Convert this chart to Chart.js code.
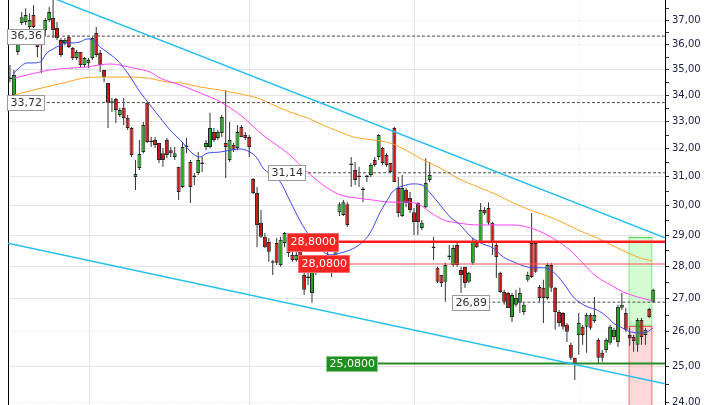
<!DOCTYPE html>
<html>
<head>
<meta charset="utf-8">
<script src="https://cdn.jsdelivr.net/npm/chart.js@4.4.0/dist/chart.umd.min.js"></script>
<style>
  html, body { margin: 0; padding: 0; background: #fff; }
  #wrap { width: 720px; height: 405px; }
</style>
</head>
<body>
<div id="wrap"><canvas id="chart" width="720" height="405"></canvas></div>
<script>
// daily candles (oldest first)
const opens = [34.63,34.01,35.71,36.90,36.95,36.74,37.24,36.28,36.20,36.61,37.03,37.11,36.70,36.20,36.08,36.33,35.87,35.47,35.71,35.19,
  35.27,35.47,36.49,35.67,34.99,34.48,33.71,33.86,33.25,33.52,33.14,32.76,30.99,31.31,31.88,33.71,32.25,32.32,32.21,31.84,
  32.32,31.95,31.70,31.35,30.64,32.06,31.52,30.99,31.13,31.45,32.06,32.06,32.61,32.39,32.58,32.21,31.59,32.14,32.03,32.80,
  32.50,32.43,30.92,30.43,29.42,28.96,28.79,28.12,28.76,28.05,28.76,28.96,28.37,28.21,28.53,27.73,27.64,27.17,27.83,28.27,
  28.15,28.15,27.96,28.15,29.78,29.68,30.05,31.42,31.24,30.99,30.54,30.99,31.06,31.59,31.70,32.03,31.77,31.49,32.76,30.61,
  29.65,30.54,30.26,29.78,30.09,29.25,29.95,30.89,28.59,27.96,27.73,27.52,28.30,28.05,28.69,27.89,27.99,27.52,28.12,28.79,
  28.79,29.85,29.92,29.42,28.69,27.80,27.20,27.17,26.44,26.81,26.87,26.59,27.58,28.76,28.76,27.36,27.33,27.02,28.05,27.33,
  26.59,26.56,26.21,25.62,25.25,25.91,26.15,26.15,26.50,26.32,25.76,25.39,25.47,25.68,25.85,25.70,26.72,26.56,25.91,25.85,
  25.62,26.35,25.91,26.68,26.90];
const highs = [35.19,34.99,36.53,37.37,37.53,37.32,37.66,36.61,36.41,37.11,37.58,38.10,36.95,36.28,36.28,36.41,35.91,35.79,35.71,35.51,
  35.47,36.33,36.74,35.79,34.99,34.48,33.90,33.90,33.52,33.90,33.25,32.80,31.59,32.32,32.99,33.75,32.43,32.43,32.21,32.03,
  32.39,32.06,32.06,31.35,32.25,32.39,31.59,31.13,31.88,31.70,32.32,33.33,32.76,32.69,33.25,34.20,32.99,32.21,32.87,32.87,
  32.61,32.50,30.96,30.64,29.85,29.08,28.92,28.21,28.92,28.96,29.12,29.02,28.53,28.47,28.59,27.80,27.83,27.96,28.27,28.37,
  28.27,28.47,28.21,28.59,30.12,30.19,30.12,31.70,31.52,31.35,30.64,31.06,31.49,31.70,32.54,32.06,31.84,31.49,32.80,30.99,
  31.06,30.61,30.47,29.92,30.12,29.52,31.66,31.52,28.96,27.99,27.73,28.12,28.69,28.69,28.76,27.99,27.99,27.83,28.92,28.86,
  30.09,29.95,30.12,29.45,28.76,27.83,27.27,27.20,27.17,27.27,27.33,26.87,27.83,29.75,28.79,27.42,27.58,28.12,28.12,27.36,
  26.65,26.59,26.26,25.68,25.25,26.56,26.21,26.56,26.56,27.05,25.82,25.47,25.82,26.21,26.12,26.81,27.17,26.71,26.12,25.91,
  26.41,26.41,26.12,26.71,27.30];
const lows = [34.51,33.72,35.59,36.82,36.82,36.61,36.70,35.51,34.87,36.33,36.95,36.28,36.20,35.51,35.99,35.87,35.39,35.39,35.11,35.11,
  35.07,35.39,35.51,34.91,34.51,32.76,33.36,32.95,33.17,32.87,32.69,31.70,30.54,31.24,31.84,32.21,32.06,32.03,31.49,31.35,
  31.67,31.70,31.59,30.19,30.61,31.84,30.09,30.71,31.06,31.17,31.95,32.03,32.25,32.32,32.43,30.96,31.52,31.88,31.95,32.43,
  32.32,31.70,30.40,28.62,28.92,28.59,28.15,27.73,28.05,27.99,28.62,28.30,28.15,28.15,27.89,27.11,27.42,26.87,27.73,27.83,
  27.80,28.05,27.67,28.08,29.65,29.65,29.28,30.64,30.71,30.64,30.12,30.82,30.99,31.35,31.59,31.42,31.35,31.13,30.82,29.62,
  29.62,29.95,29.75,29.02,29.02,29.18,29.92,30.82,28.21,27.48,27.36,26.90,28.21,27.99,27.99,27.17,27.33,27.48,28.05,28.59,
  28.76,29.68,29.35,28.37,27.64,27.17,26.81,26.71,26.29,26.75,26.56,26.50,27.52,27.64,27.80,26.90,26.26,26.96,27.20,26.06,
  26.15,26.06,25.70,25.19,24.62,25.33,25.62,25.39,26.06,26.26,25.10,25.13,25.39,25.62,25.76,25.56,26.65,26.00,25.59,25.42,
  25.42,25.62,25.62,26.41,26.87];
const closes = [34.63,34.79,36.49,37.15,37.24,37.03,36.74,35.91,35.99,37.03,37.37,36.61,36.28,35.59,36.20,35.91,35.47,35.71,35.19,35.47,
  35.39,36.28,35.59,35.19,34.71,33.71,33.71,33.44,33.44,33.14,32.76,31.77,31.10,31.81,32.87,32.25,32.25,32.14,31.59,31.59,
  31.77,31.84,31.84,30.47,32.06,32.06,30.64,30.99,31.59,31.45,32.21,32.76,32.32,32.61,33.17,32.06,32.32,31.95,32.61,32.43,
  32.39,32.06,30.43,29.35,28.96,28.62,28.47,28.12,28.12,28.86,29.08,28.43,28.21,28.37,27.99,27.27,27.64,27.83,28.15,27.96,
  27.89,28.37,28.08,28.53,30.05,30.12,29.35,31.42,30.89,30.99,30.54,30.99,31.42,31.42,32.50,31.49,31.42,31.17,30.82,29.75,
  30.61,30.09,29.85,29.45,29.45,29.42,30.78,31.06,28.59,27.52,27.48,28.05,28.30,28.59,28.05,27.73,27.48,27.80,28.79,28.62,
  29.85,29.75,29.42,28.76,28.30,27.20,26.90,26.71,27.11,27.02,27.17,26.81,27.73,27.67,27.83,27.02,27.02,28.05,27.33,26.59,
  26.26,26.15,26.00,25.25,25.08,26.26,25.91,26.50,26.12,26.50,25.25,25.25,25.76,26.15,26.06,26.75,26.81,26.06,25.82,25.73,
  26.35,25.85,26.06,26.44,27.27];

// moving averages (x = candle index)
const fastMaIdx = [1.0,2.6,4.3,5.9,7.7,9.4,11.0,12.8,14.5,16.1,17.9,19.6,21.2,23.0,24.7,27.3,29.8,33.2,35.7,38.3,40.8,43.4,46.7,48.5,50.3,
  53.6,56.1,58.7,61.2,63.0,64.5,66.3,68.9,71.4,74.0,76.5,79.1,81.6,84.2,86.7,89.3,91.8,94.4,96.2,97.7,100.3,102.8,105.1,107.1,109.7,
  112.2,114.8,117.3,119.9,123.2,125.8,128.3,130.9,133.4,136.0,138.5,141.1,143.6,145.4,147.2,149.7,152.3,153.8,155.6,158.2,160.7,162.5,164.0];
const fastMaVal = [34.87,35.11,35.27,35.27,35.31,35.67,35.83,35.99,36.08,36.08,36.12,36.24,36.20,35.91,35.71,35.39,34.91,34.12,33.63,33.14,32.69,
  32.32,31.81,31.70,31.84,31.88,31.95,31.99,31.88,31.66,31.31,31.10,30.82,30.16,29.48,28.96,28.56,28.37,28.43,28.53,28.72,29.08,29.78,30.19,
  30.50,30.68,30.75,30.71,30.44,30.02,29.62,29.35,28.99,28.76,28.59,28.30,28.15,28.02,27.96,27.96,27.83,27.48,27.05,26.87,26.75,26.65,26.44,
  26.26,26.15,26.00,25.97,26.00,26.12];
const midMaIdx = [1.0,4.3,10.2,19.6,25.5,31.4,35.7,38.3,43.4,48.5,53.6,58.7,64.5,71.4,75.8,79.8,84.2,88.5,92.6,96.9,101.3,104.6,107.1,110.5,
  114.0,119.9,128.3,132.7,137.0,140.3,143.6,146.2,149.7,153.1,156.4,160.0,163.8];
const midMaVal = [34.67,34.79,34.99,35.11,35.23,35.07,34.91,34.67,34.40,34.09,33.75,33.25,32.50,31.77,31.17,30.71,30.37,30.26,30.19,30.12,
  30.12,30.02,29.78,29.52,29.42,29.35,29.35,29.25,29.02,28.76,28.43,28.08,27.67,27.42,27.20,27.05,26.93];
const slowMaIdx = [1.0,5.9,10.2,14.5,18.6,22.2,27.3,31.4,36.5,40.1,43.4,48.5,53.6,58.7,63.0,67.1,71.4,75.8,79.8,84.2,87.5,92.6,96.9,101.3,
  105.4,109.7,114.0,119.9,124.2,128.3,132.7,137.0,141.1,145.4,149.7,153.8,158.2,161.5,163.8];
const slowMaVal = [34.01,34.20,34.36,34.51,34.67,34.71,34.71,34.71,34.63,34.51,34.48,34.32,34.20,34.05,33.90,33.63,33.36,33.14,32.87,32.61,
  32.43,32.32,32.21,31.92,31.59,31.31,30.96,30.61,30.37,30.09,29.85,29.65,29.42,29.15,28.92,28.66,28.40,28.24,28.18];

// trend channel end points
const channelIdx = [-0.5, 167];
const channelUpper = [38.73, 28.93];
const channelLower = [28.75, 24.51];

// marked levels
const levelValues = [36.36, 33.72, 31.14, 26.89, 28.80, 28.08, 25.08];
const levelFromIdx = [-0.77, -0.77, 65.8, 112.8, 70.7, 73.5, 80.6];
const levelKinds = ['plain', 'plain', 'plain', 'plain', 'red', 'red2', 'green'];

// target / stop zone
const zoneIdx = 160.75;
const targetZone = [26.18, 28.95];
const stopZone = [23.0, 26.18];

const yTickValues = [24,24.5,25,25.5,26,26.5,27,27.5,28,28.5,29,29.5,30,30.5,31,31.5,32,32.5,33,33.5,34,34.5,35,35.5,36,36.5,37,37.5];
const yDotted = [24, 26, 32, 36, 37];
const xGridIdx = [20.2, 61.0, 103.1, 145.2];
const xDotted = [145.2];

const styles = {
  plain: { line: '#4a4a4a', width: 1, dash: [3, 2], box: '#ffffff', edge: '#9a9a9a', text: '#333333', h: 15, dec: 2 },
  red:   { line: '#ff1c1c', width: 2.5, dash: [], box: '#ff2424', edge: '#ff6a6a', text: '#ffffff', h: 18, dec: 4 },
  red2:  { line: '#ff5050', width: 1.2, dash: [], box: '#ff2424', edge: '#ff6a6a', text: '#ffffff', h: 17, dec: 4 },
  green: { line: '#2a8a2a', width: 2, dash: [], box: '#1f8f1f', edge: '#88cc88', text: '#ffffff', h: 15, dec: 4 }
};

const fmt = (v, d) => v.toFixed(d).replace('.', ',');
const font = '"DejaVu Sans", Verdana, sans-serif';

const bodyColors = opens.map((o, i) => closes[i] > o ? '#1ea81e' : (closes[i] < o ? '#d01414' : '#333333'));

const datasets = [
  { type: 'line', data: channelIdx.map((x, i) => ({ x, y: channelUpper[i] })), borderColor: '#28bff0', borderWidth: 1.5, pointRadius: 0, order: 0 },
  { type: 'line', data: channelIdx.map((x, i) => ({ x, y: channelLower[i] })), borderColor: '#28bff0', borderWidth: 1.5, pointRadius: 0, order: 0 }
];

levelValues.forEach((v, i) => {
  const s = styles[levelKinds[i]];
  datasets.push({
    type: 'line', data: [{ x: levelFromIdx[i], y: v }, { x: 167, y: v }],
    borderColor: s.line, borderWidth: s.width, borderDash: s.dash, pointRadius: 0, order: 0
  });
});

datasets.push(
  { type: 'line', data: fastMaIdx.map((x, i) => ({ x, y: fastMaVal[i] })), borderColor: '#3b46ee', borderWidth: 1, pointRadius: 0, cubicInterpolationMode: 'monotone', order: 1 },
  { type: 'line', data: midMaIdx.map((x, i) => ({ x, y: midMaVal[i] })), borderColor: '#ff44ff', borderWidth: 1, pointRadius: 0, cubicInterpolationMode: 'monotone', order: 2 },
  { type: 'line', data: slowMaIdx.map((x, i) => ({ x, y: slowMaVal[i] })), borderColor: '#ffa424', borderWidth: 1, pointRadius: 0, cubicInterpolationMode: 'monotone', order: 3 },
  {
    type: 'bar', data: opens.map((o, i) => ({ x: i, y: [o, closes[i]] })),
    backgroundColor: bodyColors, borderColor: '#262626', borderWidth: 1, borderSkipped: false,
    barThickness: 4, minBarLength: 1.5, grouped: false, inflateAmount: 0, order: 4
  },
  {
    type: 'bar', data: lows.map((l, i) => ({ x: i, y: [l, highs[i]] })),
    backgroundColor: '#333333', borderWidth: 0, barThickness: 1, grouped: false, inflateAmount: 0, order: 5
  },
  {
    type: 'bar', data: [{ x: zoneIdx, y: targetZone }],
    backgroundColor: 'rgba(160,250,160,0.45)', borderColor: '#44dd44', borderWidth: 1, borderSkipped: false,
    barThickness: 24, grouped: false, inflateAmount: 0, order: 10
  },
  {
    type: 'bar', data: [{ x: zoneIdx, y: stopZone }],
    backgroundColor: 'rgba(255,170,170,0.45)', borderColor: '#ee2222', borderWidth: 1, borderSkipped: false,
    barThickness: 24, grouped: false, inflateAmount: 0, order: 10
  }
);

// level tags drawn on top
const levelTags = {
  id: 'levelTags',
  afterDatasetsDraw(chart) {
    const { ctx, scales: { x, y } } = chart;
    ctx.save();
    ctx.font = '11px ' + font;
    ctx.textBaseline = 'middle';
    levelValues.forEach((v, i) => {
      const s = styles[levelKinds[i]];
      const txt = fmt(v, s.dec);
      const w = Math.round(ctx.measureText(txt).width) + 6;
      const left = Math.round(x.getPixelForValue(levelFromIdx[i])) + 0.5;
      const mid = y.getPixelForValue(v);
      const top = Math.round(mid - s.h / 2) + 0.5;
      ctx.fillStyle = s.box;
      ctx.fillRect(left, top, w, s.h);
      ctx.strokeStyle = s.edge;
      ctx.lineWidth = 1;
      ctx.strokeRect(left, top, w, s.h);
      ctx.fillStyle = s.text;
      ctx.fillText(txt, left + 3, mid + 0.5);
    });
    ctx.restore();
  }
};

const noPad = s => { s.paddingTop = 0; s.paddingBottom = 0; };

new Chart(document.getElementById('chart'), {
  type: 'bar',
  data: { datasets },
  options: {
    responsive: false,
    animation: false,
    layout: { padding: 0 },
    plugins: { legend: { display: false }, tooltip: { enabled: false } },
    scales: {
      x: {
        type: 'linear', min: -0.5, max: 167, offset: false,
        ticks: { display: false },
        grid: { color: '#e4e4e4', drawTicks: false, offset: false },
        border: { display: false, dash: ctx => (ctx.tick && xDotted.includes(ctx.tick.value)) ? [1, 2] : [] },
        afterBuildTicks: s => { s.ticks = xGridIdx.map(v => ({ value: v })); },
        afterFit: s => { s.height = 0; s.paddingLeft = 0; s.paddingRight = 0; }
      },
      y: {
        type: 'logarithmic', position: 'right', min: 23.93, max: 37.88,
        ticks: {
          autoSkip: false, padding: 3, color: '#23234a',
          font: { family: font, size: 10 },
          callback: v => Number.isInteger(v) ? fmt(v, 2) : ''
        },
        grid: {
          color: ctx => (ctx.tick && Number.isInteger(ctx.tick.value)) ? '#e4e4e4' : 'rgba(0,0,0,0)',
          tickColor: '#333333', tickLength: 4, drawTicks: true
        },
        border: {
          display: true, color: '#000000', width: 1,
          dash: ctx => (ctx.tick && yDotted.includes(ctx.tick.value)) ? [1, 2] : []
        },
        afterBuildTicks: s => { s.ticks = yTickValues.map(v => ({ value: v })); },
        afterFit: s => { s.width = 55; noPad(s); }
      },
      yl: {
        type: 'linear', position: 'left', min: 0, max: 1,
        ticks: { display: false },
        grid: { display: false },
        border: { display: true, color: '#000000', width: 1 },
        afterFit: s => { s.width = 8; noPad(s); }
      }
    }
  },
  plugins: [levelTags]
});
</script>
</body>
</html>
